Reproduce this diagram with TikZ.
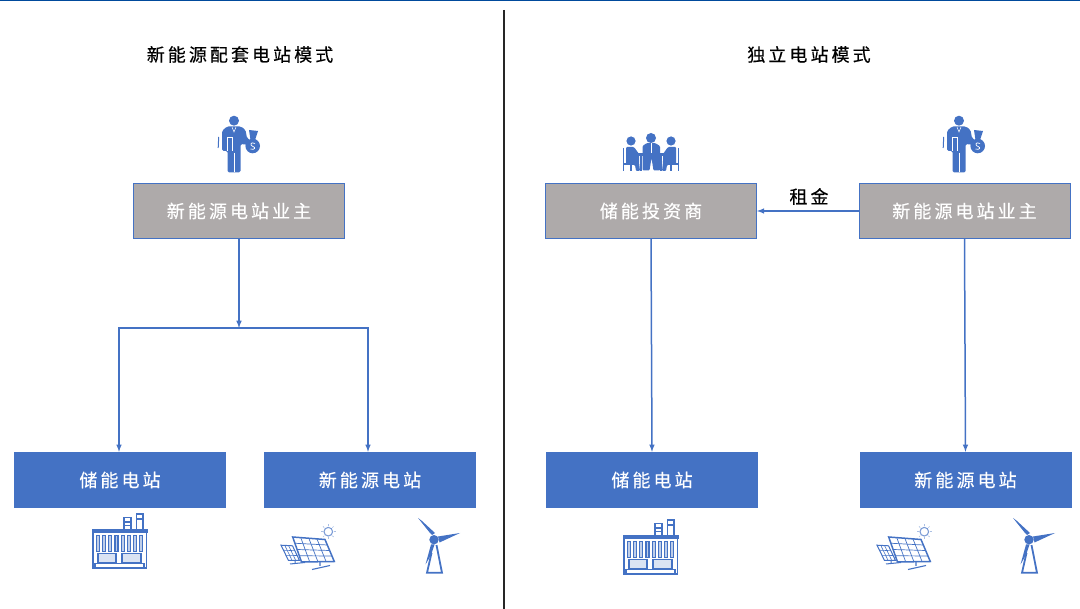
\documentclass[tikz,border=0pt]{standalone}
\usepackage{fontspec}
\setmainfont{Noto Sans CJK SC}
\newfontfamily\cjk[LetterSpace=17,FakeBold=0.35]{Noto Sans CJK SC}
\usetikzlibrary{calc}

\definecolor{iconblue}{HTML}{4472C4}
\definecolor{boxgray}{HTML}{AEAAAA}
\definecolor{topblue}{HTML}{004A9C}

\tikzset{
  titlebox/.style={font=\cjk\fontsize{18pt}{20pt}\selectfont,text=black},
  graybox/.style={draw=iconblue,fill=boxgray,line width=0.8pt,minimum width=211pt,minimum height=55.5pt,inner sep=0pt,font=\cjk\fontsize{18pt}{20pt}\selectfont,text=white},
  bluebox/.style={graybox,fill=iconblue},
  link/.style={draw=iconblue,line width=1.5pt},
  icon/.style={fill=iconblue,draw=none},
  iconline/.style={draw=iconblue,line width=1.5pt}
}

% business man with money bag
\newcommand\manicon{
\fill[icon](234,120.7)circle(5);
\fill[icon,rounded corners=1.5](222,151)--(222,131)--(227,126.5)--(241,126.5)--(245.5,130)--(247,138)--(250,140)--(250,145)--(240.5,144)--(240.5,172.5)--(227.5,172.5)--(227.5,151)--cycle;
\fill[icon](252.7,146)circle(7.3);
\fill[icon](249,130)--(258,131)--(255,140)--(250.5,140)--cycle;
\draw[white,line width=0.6pt](234,153)--(234,172.5);
\draw[white,line width=0.5pt](232,127)--(234,132)--(236,127);
\draw[white,line width=0.7pt](227.5,137)--(227.5,151)(227.5,137)--(232.5,137)--(232.5,151);
\draw[white,line width=0.7pt](255,143.5).. controls (250,141) and (250,146) ..(253,146.5).. controls (256,147) and (255,150.5) ..(250.5,149);
\draw[iconblue,line width=1pt](218.7,137)--(218.2,148);
}

% three people around a table
\newcommand\meetingicon{
\foreach \s in {1,-1}{
\begin{scope}[shift={(651,0)},xscale=\s]
\fill[icon](-20,141)circle(4.6);
\fill[icon,rounded corners=1](-25,147)--(-17,147)--(-12,154)--(-12,162)--(-11,171)--(-15,171)--(-16,165)--(-25,164)--cycle;
\draw[iconblue,line width=1.5pt](-27.5,148)--(-27.5,171.5)(-27.5,164)--(-17,164)(-20,164)--(-20,171.5);
\draw[iconblue,line width=1.5pt](-10,155)--(-10,171.5);
\end{scope}}
\fill[icon](651,138)circle(5);
\fill[icon,rounded corners=1](642.5,170.5)--(642.5,146)--(647,143)--(655,143)--(660,146)--(660,170.5)--(653.5,170.5)--(651.5,158)--(649.5,170.5)--cycle;
\draw[white,line width=0.6pt](651.5,143)--(651.5,154);
\fill[icon](637,153)rectangle(665,156);
}

% factory with two chimneys
\newcommand\factoryicon{
\draw[iconline](93,568)rectangle(146.5,531);
\fill[icon](92,529.5)rectangle(147.5,533);
\foreach \i in {0,...,7}{
\draw[iconblue,line width=1.2pt,fill=iconblue!35]({96.3+6.2*\i},535.5)rectangle({99.3+6.2*\i},551.5);
}
\draw[iconblue,line width=1.3pt,fill=iconblue!20](98,553.5)rectangle(116,563);
\draw[iconblue,line width=1.3pt,fill=iconblue!20](122,553.5)rectangle(141,563);
\draw[iconline](95,568)--(95,563.5)--(144,563.5)--(144,568);
\draw[iconline](124,530)--(124,517.5)--(131,517.5)--(131,530);
\draw[iconblue,line width=1.2pt](124,522)--(131,522)(124,525.5)--(131,525.5);
\draw[iconline](136.5,530)--(136.5,514)--(143,514)--(143,530);
\draw[iconblue,line width=1.2pt](136.5,519)--(143,519);
}

% two solar panels and the sun
\newcommand\solaricon{
\coordinate(sa)at(292.7,537);
\coordinate(sb)at(325,539.5);
\coordinate(sc)at(334.3,561.5);
\coordinate(sd)at(301.5,562);
\coordinate(se)at(281,545.2);
\coordinate(sf)at(292.5,545.8);
\coordinate(sg)at(299.5,560.5);
\coordinate(sh)at(288.5,560.5);
\draw[iconblue,line width=1pt](se)--(sf)--(sg)--(sh)--cycle;
\foreach \t in {0.33,0.66}{
\draw[iconblue,line width=0.6pt]($(se)!\t!(sf)$)--($(sh)!\t!(sg)$);
\draw[iconblue,line width=0.6pt]($(se)!\t!(sh)$)--($(sf)!\t!(sg)$);
}
\draw[iconblue,line width=1.5pt,fill=white](sa)--(sb)--(sc)--(sd)--cycle;
\foreach \t in {0.25,0.5,0.75}{
\draw[iconblue,line width=0.7pt]($(sa)!\t!(sb)$)--($(sd)!\t!(sc)$);
\draw[iconblue,line width=0.7pt]($(sa)!\t!(sd)$)--($(sb)!\t!(sc)$);
}
\draw[iconblue,line width=1.1pt](320,562)--(320,566)(312,569.5)--(330,565.5);
\draw[iconblue,line width=1pt](295,561)--(295,563)(290,564)--(305,562.5);
\draw[iconblue!70,line width=1.1pt](328.3,531.7)circle(4.3);
\foreach \a in {0,45,...,315}{
\draw[iconblue!45,line width=0.6pt](328.3,531.7)+(\a:5.7)--+(\a:7.5);
}
}

% wind turbine
\newcommand\turbineicon{
\fill[icon](434,539.7)circle(4.7);
\fill[icon](418,518)--(430,533)--(432,535)--(435,533)--(422,521)--cycle;
\fill[icon](460,533)--(438,536.5)--(439.5,542.5)--cycle;
\fill[icon](434.5,544.5)--(431,544.5)--(425.5,564.5)--(431,555)--cycle;
\draw[iconblue,line width=1.8pt](431.5,553)--(427,572.8)--(442,572.8)--(436.5,545);
}

\begin{document}
\begin{tikzpicture}[x=1pt,y=-1pt,>=latex]
\useasboundingbox(0,0)rectangle(1080,609);

\fill[topblue](0,0)rectangle(1080,1.2);
\draw[line width=2pt,black!85](503.5,10)--(503.5,609);

\node[titlebox](lefttitle)at(240,54.5){新能源配套电站模式};
\node[titlebox](righttitle)at(809,54.5){独立电站模式};

\node[graybox](leftowner)at(239,211){\raisebox{-1pt}{新能源电站业主}};
\node[bluebox](leftstorage)at(120,480){\raisebox{-1pt}{储能电站}};
\node[bluebox](leftnew)at(370,480){\raisebox{-1pt}{新能源电站}};

\node[graybox](investor)at(651,211){\raisebox{-1pt}{储能投资商}};
\node[graybox](rightowner)at(964.5,211){\raisebox{-1pt}{新能源电站业主}};
\node[bluebox](rightstorage)at(652,480){\raisebox{-1pt}{储能电站}};
\node[bluebox](rightnew)at(965.5,480){\raisebox{-1pt}{新能源电站}};

\node[titlebox](rent)at(809,196.5){租金};

\coordinate(branch)at(239,328);

\draw[link,->](leftowner.south)--(branch);
\draw[link,->](branch)-|([xshift=-1pt]leftstorage.north);
\draw[link,->](branch)-|([xshift=-2pt]leftnew.north);
\draw[link,->](rightowner.west)--(investor.east);
\draw[link,->](investor.south)--(rightstorage.north);
\draw[link,->](rightowner.south)--(rightnew.north);

\manicon
\begin{scope}[shift={(725,0)}]\manicon\end{scope}
\meetingicon
\factoryicon
\begin{scope}[shift={(531,6)}]\factoryicon\end{scope}
\solaricon
\begin{scope}[shift={(596,0)}]\solaricon\end{scope}
\turbineicon
\begin{scope}[shift={(595,0)}]\turbineicon\end{scope}

\end{tikzpicture}
\end{document}
